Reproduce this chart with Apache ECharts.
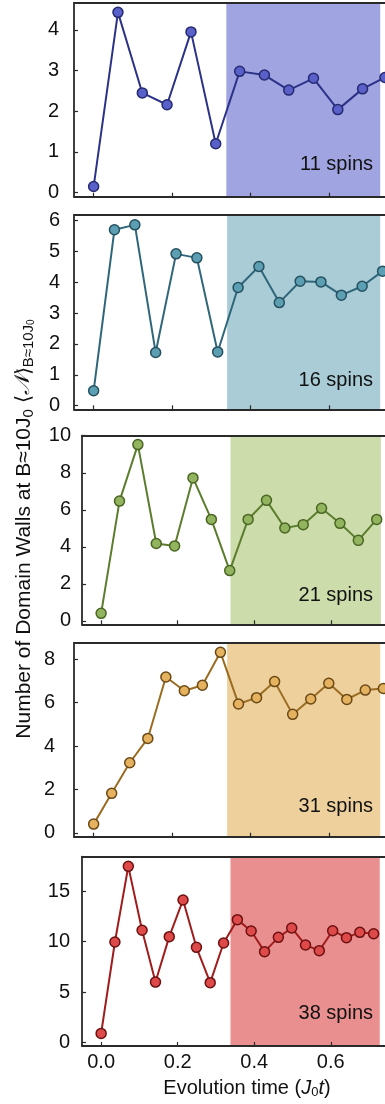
<!DOCTYPE html>
<html>
<head>
<meta charset="utf-8">
<script src="https://cdn.jsdelivr.net/npm/echarts@6/dist/echarts.min.js"></script>
<style>
html,body{margin:0;padding:0;background:#fff;}
#c{width:385px;height:1104px;}
</style>
</head>
<body>
<div id="c"></div>
<script>
// ---- data ----
const spinLabels = ['11 spins', '16 spins', '21 spins', '31 spins', '38 spins'];
const xTicks = [0, 0.2, 0.4, 0.6];

const times11 = [0, 0.062, 0.124, 0.187, 0.248, 0.311, 0.372, 0.435, 0.497, 0.56, 0.622, 0.685, 0.742];
const walls11 = [0.15, 4.43, 2.45, 2.16, 3.95, 1.2, 2.98, 2.89, 2.52, 2.81, 2.04, 2.55, 2.83];

const times16 = [0, 0.053, 0.105, 0.158, 0.21, 0.263, 0.316, 0.368, 0.421, 0.473, 0.526, 0.579, 0.631, 0.684, 0.736];
const walls16 = [0.48, 5.7, 5.86, 1.72, 4.92, 4.79, 1.74, 3.83, 4.51, 3.34, 4.03, 4.01, 3.58, 3.87, 4.36];

const times21 = [0, 0.048, 0.096, 0.144, 0.192, 0.24, 0.288, 0.336, 0.384, 0.432, 0.48, 0.528, 0.576, 0.624, 0.672, 0.72];
const walls21 = [0.41, 6.47, 9.52, 4.18, 4.05, 7.72, 5.48, 2.72, 5.48, 6.51, 5.02, 5.2, 6.08, 5.27, 4.35, 5.48];

const times31 = [0, 0.046, 0.092, 0.138, 0.184, 0.231, 0.277, 0.323, 0.369, 0.415, 0.461, 0.507, 0.553, 0.599, 0.645, 0.692, 0.738];
const walls31 = [0.4, 1.82, 3.23, 4.35, 7.18, 6.55, 6.8, 8.32, 5.94, 6.23, 6.97, 5.46, 6.17, 6.89, 6.15, 6.58, 6.65];

const times38 = [0, 0.036, 0.071, 0.107, 0.142, 0.178, 0.214, 0.249, 0.285, 0.32, 0.356, 0.392, 0.427, 0.463, 0.498, 0.534, 0.57, 0.605, 0.641, 0.676, 0.712];
const walls38 = [0.89, 9.97, 17.48, 11.13, 5.99, 10.5, 14.14, 9.44, 5.93, 9.87, 12.19, 11.06, 9.01, 10.43, 11.36, 9.67, 9.11, 11.09, 10.4, 10.93, 10.79];

const yTicks11 = [0, 1, 2, 3, 4];
const yTicks16 = [0, 1, 2, 3, 4, 5, 6];
const yTicks21 = [0, 2, 4, 6, 8, 10];
const yTicks31 = [0, 2, 4, 6, 8];
const yTicks38 = [0, 5, 10, 15];

const yRange11 = [-0.1, 4.66];
const yRange16 = [-0.12, 6.18];
const yRange21 = [-0.18, 10.0];
const yRange31 = [-0.18, 8.75];
const yRange38 = [-0.36, 18.44];
const xRange = [-0.05, 0.76];

const shade11 = [0.338, 0.73];
const shade16 = [0.34, 0.73];
const shade21 = [0.338, 0.731];
const shade31 = [0.34, 0.73];
const shade38 = [0.338, 0.728];

// ---- styling / layout ----
const FONT = '"Liberation Sans", Arial, Helvetica, sans-serif';
const RIGHT_EDGE = 392;
const panels = [
  {t: times11, v: walls11, ticks: yTicks11, yr: yRange11, shade: shade11, label: spinLabels[0],
   top: 3, h: 193.7, left: 74, lm: 15, line: '#2c3288', fill: '#5a60c9', edge: '#262a70', bg: '#a0a4e1'},
  {t: times16, v: walls16, ticks: yTicks16, yr: yRange16, shade: shade16, label: spinLabels[1],
   top: 215, h: 194.3, left: 74, lm: 14, line: '#2f6679', fill: '#5c9fb3', edge: '#25505f', bg: '#a9ccd7'},
  {t: times21, v: walls21, ticks: yTicks21, yr: yRange21, shade: shade21, label: spinLabels[2],
   top: 435.7, h: 188.6, left: 82, lm: 11, line: '#5b7d2d', fill: '#92b45e', edge: '#4a6623', bg: '#ccdcab'},
  {t: times31, v: walls31, ticks: yTicks31, yr: yRange31, shade: shade31, label: spinLabels[3],
   top: 643, h: 193.7, left: 74, lm: 19, line: '#9a6c22', fill: '#e5b260', edge: '#6a4915', bg: '#eed09d'},
  {t: times38, v: walls38, ticks: yTicks38, yr: yRange38, shade: shade38, label: spinLabels[4],
   top: 856.7, h: 189.3, left: 82, lm: 12, line: '#a11c1c', fill: '#de4a4a', edge: '#6c1010', bg: '#ea8f8f'}
];
const AXC = '#2a2a2a';
const grid = [], xAxis = [], yAxis = [], series = [], graphic = [];
panels.forEach((p, i) => {
  grid.push({left: p.left, width: RIGHT_EDGE - p.left, top: p.top, height: p.h,
    containLabel: false, outerBoundsMode: 'none'});
  const isLast = i === panels.length - 1;
  xAxis.push({
    type: 'value', gridIndex: i, min: xRange[0], max: xRange[1], z: 5,
    axisLine: {show: true, onZero: false, lineStyle: {color: AXC, width: 1.8}},
    axisTick: {show: true, inside: true, length: 4, customValues: xTicks, lineStyle: {color: AXC, width: 1.2}},
    axisLabel: {show: isLast, customValues: xTicks, margin: 6, fontFamily: FONT, fontSize: 20, color: '#111',
      formatter: v => v.toFixed(1)},
    splitLine: {show: false}
  });
  yAxis.push({
    type: 'value', gridIndex: i, min: p.yr[0], max: p.yr[1], z: 5,
    axisLine: {show: true, onZero: false, lineStyle: {color: AXC, width: 1.8}},
    axisTick: {show: true, inside: true, length: 4, customValues: p.ticks, lineStyle: {color: AXC, width: 1.2}},
    axisLabel: {customValues: p.ticks, margin: p.lm, fontFamily: FONT, fontSize: 20, color: '#111'},
    splitLine: {show: false}
  });
  series.push({
    type: 'line', xAxisIndex: i, yAxisIndex: i, data: [], z: 1, silent: true,
    markArea: {silent: true, itemStyle: {color: p.bg, opacity: 1},
      data: [[{xAxis: p.shade[0]}, {xAxis: p.shade[1]}]]}
  });
  series.push({
    type: 'line', xAxisIndex: i, yAxisIndex: i, z: 3,
    data: p.t.map((x, k) => [x, p.v[k]]),
    symbol: 'circle', symbolSize: 10, showSymbol: true, clip: false,
    lineStyle: {color: p.line, width: 2},
    itemStyle: {color: p.fill, borderColor: p.edge, borderWidth: 1.5},
    animation: false
  });
});
// top borders
panels.forEach((p, i) => {
  xAxis.push({
    type: 'value', gridIndex: i, position: 'top', min: xRange[0], max: xRange[1], z: 5,
    axisLine: {show: true, onZero: false, lineStyle: {color: AXC, width: 1.8}},
    axisTick: {show: false}, axisLabel: {show: false}, splitLine: {show: false}
  });
});
const labelY = [164, 380, 595, 806.7, 1013.3];
panels.forEach((p, i) => {
  graphic.push({type: 'text', x: 373, y: labelY[i], z: 10,
    style: {text: p.label, fontFamily: FONT, fontSize: 20, fill: '#111', textAlign: 'right', textVerticalAlign: 'middle'}});
});
graphic.push({type: 'text', x: 247, y: 1088, z: 10,
  style: {text: 'Evolution time ({i|J}{s|0}{i|t})', fontFamily: FONT, fontSize: 20, fill: '#111',
    textAlign: 'center', textVerticalAlign: 'middle',
    rich: {i: {fontStyle: 'italic', fontFamily: FONT, fontSize: 20, fill: '#111'},
           s: {fontFamily: FONT, fontSize: 13, fill: '#111', padding: [9, 0, 0, 0]}}}});
graphic.push({type: 'text', x: 24, y: 529, rotation: Math.PI / 2, z: 10,
  style: {text: 'Number of Domain Walls at B≈10J{s|0} ⟨{n|𝒩}⟩{s|B≈10J}{ss|0}', fontFamily: FONT, fontSize: 21, fill: '#111',
    textAlign: 'center', textVerticalAlign: 'middle',
    rich: {s: {fontFamily: FONT, fontSize: 15, fill: '#111', padding: [9, 0, 0, 0]},
           ss: {fontFamily: FONT, fontSize: 10, fill: '#111', padding: [14, 0, 0, 0]},
           n: {fontFamily: '"DejaVu Serif", serif', fontStyle: 'italic', fontSize: 21, fill: '#111'}}}});

const chart = echarts.init(document.getElementById('c'), null, {renderer: 'canvas'});
chart.setOption({animation: false, backgroundColor: '#fff', grid, xAxis, yAxis, series, graphic});
</script>
</body>
</html>
